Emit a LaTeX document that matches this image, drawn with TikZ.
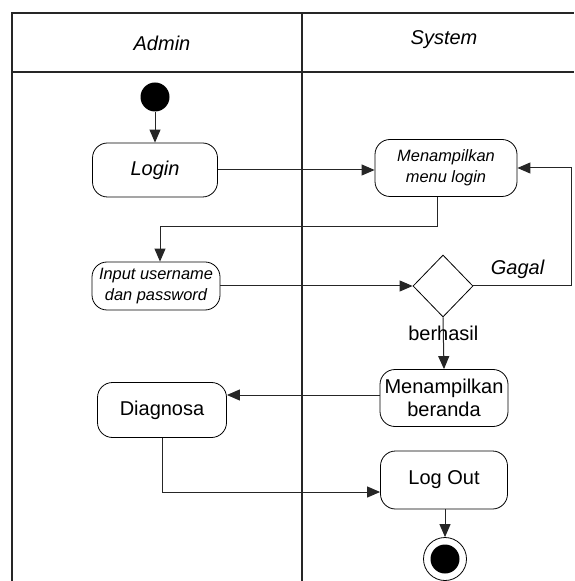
\documentclass[tikz,border=0pt]{standalone}
\usepackage{fontspec}
\setmainfont{Liberation Sans}
\usetikzlibrary{shapes.geometric, arrows.meta, positioning}
\tikzstyle{act_node} = [rectangle, rounded corners=7.5pt, draw=black, fill=white, align=center, inner sep=1pt, font=\fontsize{10}{11.5}\selectfont]
\tikzstyle{act_small} = [act_node, font=\fontsize{8.2}{10.5}\selectfont\itshape]
\tikzstyle{flow_arrow} = [draw=black!85, line width=0.5pt, -{Triangle[length=6.5pt, width=5.5pt]}]
\tikzstyle{lane_line} = [draw=black!85, line width=0.6pt]
\tikzstyle{lane_label} = [font=\fontsize{10}{12}\selectfont\itshape]
\tikzstyle{guard_label} = [font=\fontsize{10}{12}\selectfont, inner sep=1pt]

\begin{document}
\begin{tikzpicture}[x=0.5pt, y=-0.5pt]
\useasboundingbox (0,0) rectangle (574,581);
% swimlanes
\draw [lane_line] (12,581) -- (12,13) -- (574,13);
\draw [lane_line] (12,72) -- (574,72);
\draw [lane_line] (302,13) -- (302,581);
\node (lane_admin) [lane_label] at (162,43) {Admin};
\node (lane_system) [lane_label] at (444,40) {System};

% activities
\node (start) [circle, fill=black, minimum size=14.5pt, inner sep=0pt] at (155,97) {};
\node (login) [act_node, minimum width=62.5pt, minimum height=27pt, font=\fontsize{10}{11.5}\selectfont\itshape] at (155,170) {Login};
\node (menu_login) [act_small, minimum width=71pt, minimum height=28.5pt] at (446,168) {Menampilkan\\menu login};
\node (input) [act_small, minimum width=64pt, minimum height=24pt] at (156,286) {Input username\\dan password};
\node (decision) [diamond, draw=black, fill=white, minimum width=30pt, minimum height=31pt, inner sep=0pt] at (443,286) {};
\node (beranda) [act_node, minimum width=64pt, minimum height=28.5pt] at (444,398) {Menampilkan\\beranda};
\node (diagnosa) [act_node, minimum width=64.5pt, minimum height=27.5pt] at (162,410) {Diagnosa};
\node (logout) [act_node, minimum width=63.5pt, minimum height=29pt] at (444,480) {Log Out};
\node (end_outer) [circle, draw=black, minimum size=21.5pt, inner sep=0pt] at (445,559) {};
\node (end_inner) [circle, fill=black, minimum size=14.5pt, inner sep=0pt] at (445,559) {};

% flows
\draw [flow_arrow] (start) -- (start |- login.north);
\draw [flow_arrow] (login.east) -- (login.east -| menu_login.west);
\draw [flow_arrow] ([xshift=-4.5pt]menu_login.south) -- ++(0,30) -| ([xshift=2pt]input.north);
\draw [flow_arrow] (input.east) -- (input.east -| decision.west);
\draw [flow_arrow] (decision.east) -- node[above, lane_label, pos=0.45] {Gagal} ++(98,0) |- (menu_login.east);
\draw [flow_arrow] (decision.south) -- node[guard_label, pos=0.3] {berhasil} (beranda.north);
\draw [flow_arrow] ([yshift=1.5pt]beranda.west) -- ([yshift=1.5pt]beranda.west -| diagnosa.east);
\draw [flow_arrow] (diagnosa.south) |- ([yshift=-6pt]logout.west);
\draw [flow_arrow] (logout.south -| end_outer) -- (end_outer);
\end{tikzpicture}
\end{document}
